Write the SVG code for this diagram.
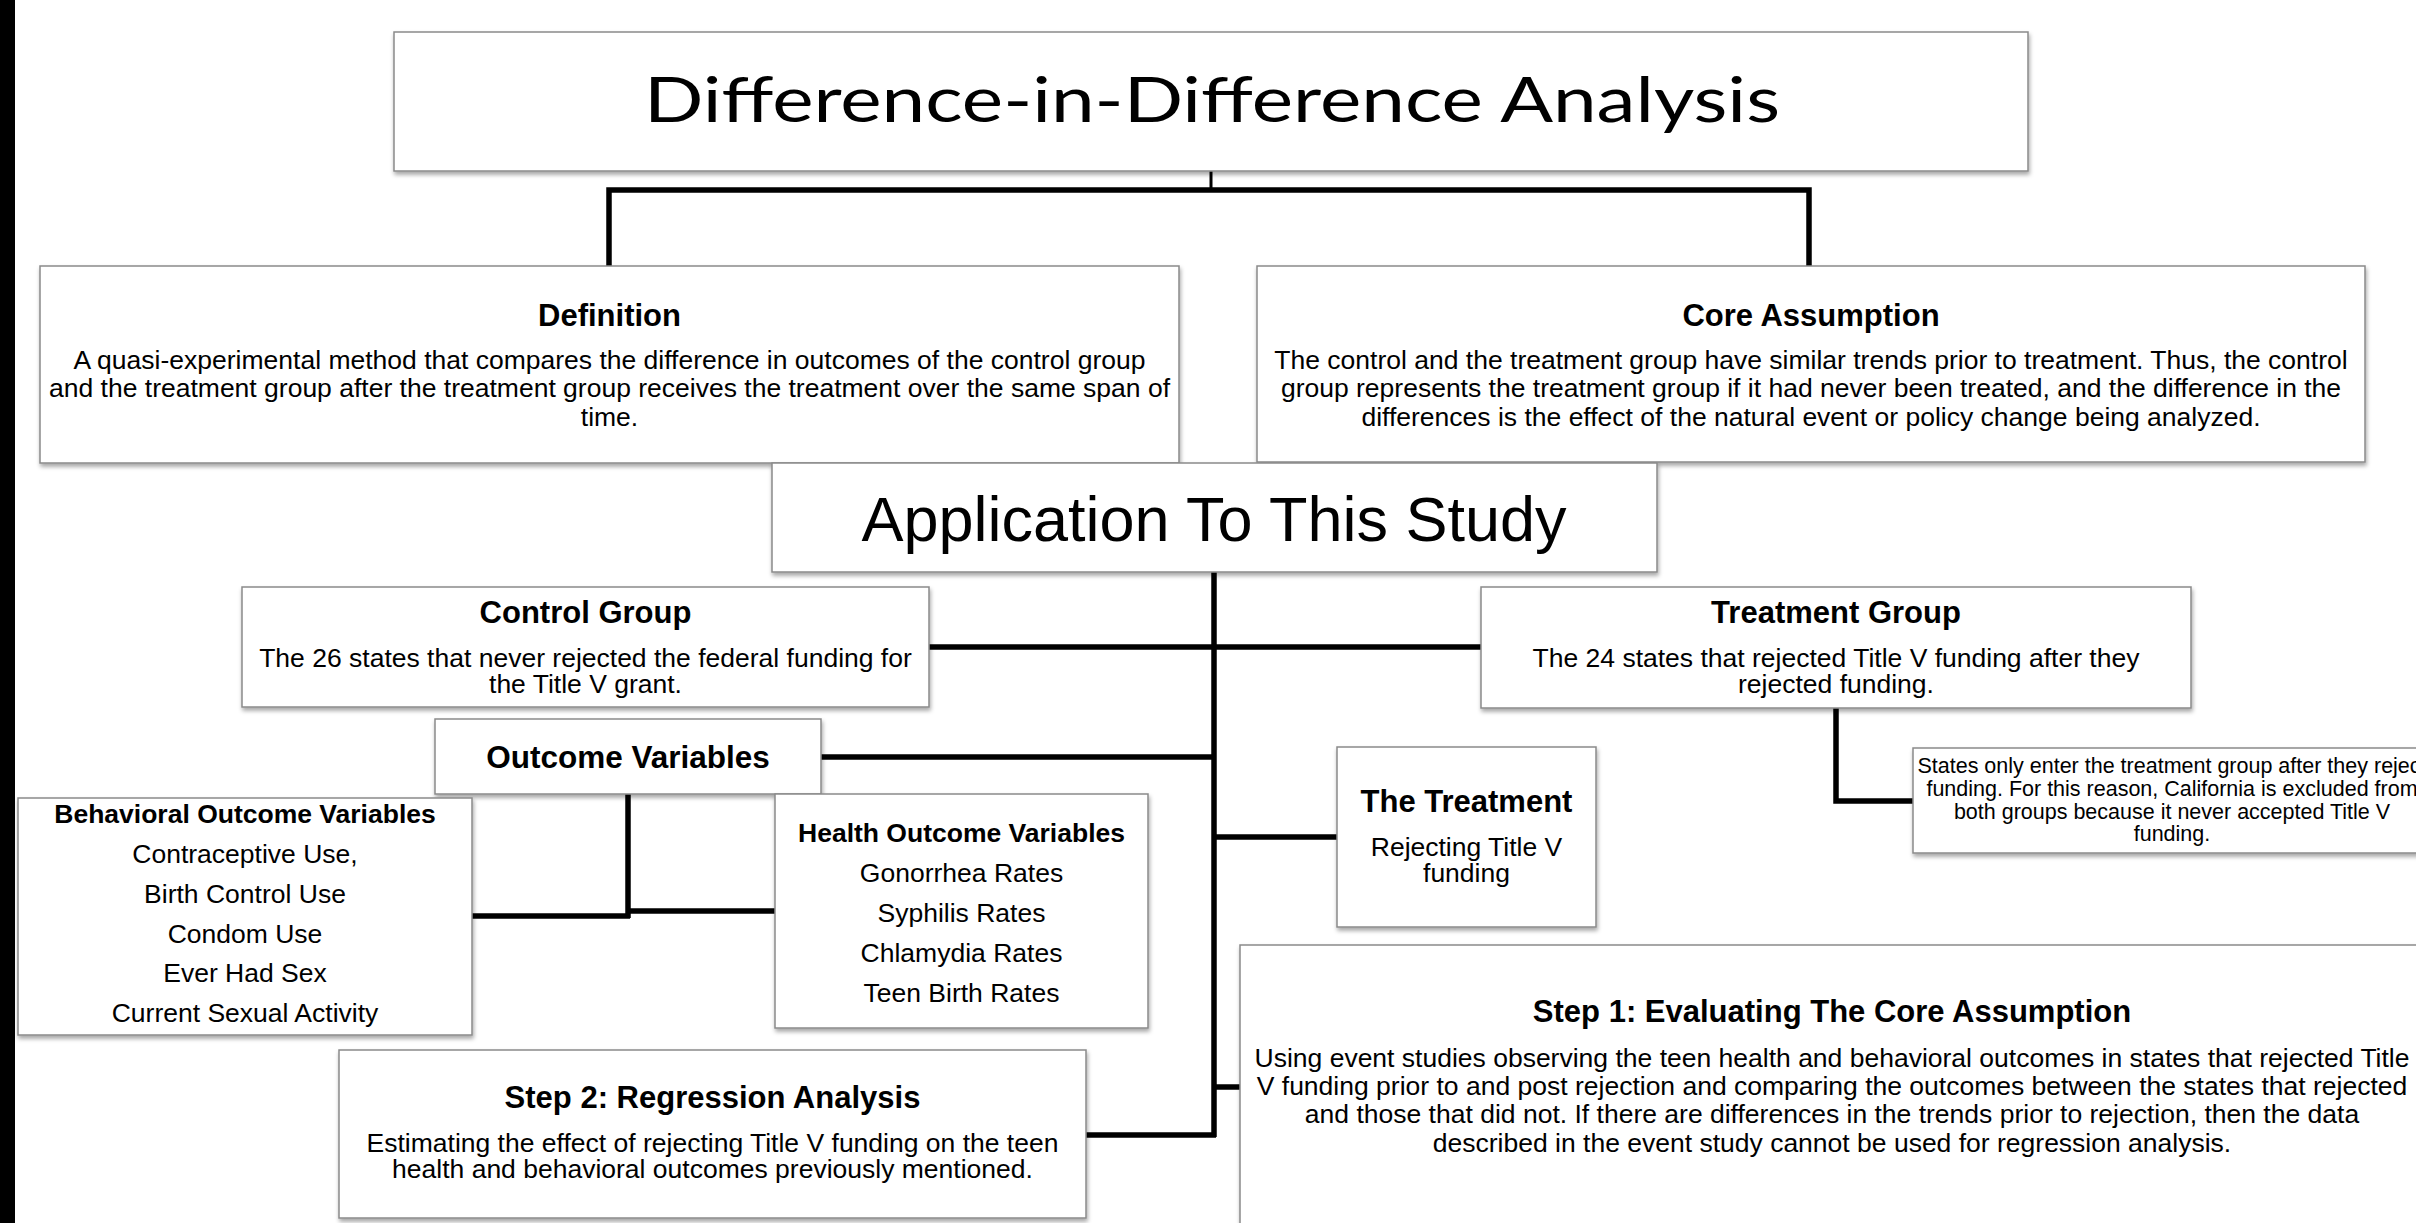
<svg xmlns="http://www.w3.org/2000/svg" width="2416" height="1223" viewBox="0 0 2416 1223">
<defs>
<filter id="sh" x="-5%" y="-10%" width="112%" height="130%">
<feDropShadow dx="1" dy="3" stdDeviation="2" flood-color="#000" flood-opacity="0.35"/>
</filter>
</defs>
<style>
.box{fill:#fff;stroke:#8a8a8a;stroke-width:1.5;filter:url(#sh)}
text{font-family:"Liberation Sans",Arial,Helvetica,sans-serif;fill:#000;text-anchor:middle}
.h{font-weight:bold;font-size:31px}
.hs{font-weight:bold;font-size:26.5px}
.b{font-size:26.5px}
.n{font-size:21.5px}
.ln{stroke:#000;fill:none;stroke-width:5.5}
</style>
<rect x="0" y="0" width="2416" height="1223" fill="#fff"/>
<rect x="0" y="0" width="15" height="1223" fill="#000"/>

<g id="connectors">
<line class="ln" x1="1211" y1="171" x2="1211" y2="190" style="stroke-width:3"/>
<polyline class="ln" points="609,266 609,190 1809,190 1809,266"/>
<line class="ln" x1="1214" y1="572" x2="1214" y2="1137"/>
<line class="ln" x1="929" y1="647" x2="1481" y2="647"/>
<line class="ln" x1="821" y1="757" x2="1214" y2="757"/>
<line class="ln" x1="1214" y1="837" x2="1337" y2="837"/>
<line class="ln" x1="1214" y1="1087" x2="1240" y2="1087"/>
<line class="ln" x1="1086" y1="1135" x2="1216" y2="1135"/>
<polyline class="ln" points="1836,708 1836,801 1913,801"/>
<line class="ln" x1="628" y1="794" x2="628" y2="918"/>
<line class="ln" x1="472" y1="916" x2="630" y2="916"/>
<line class="ln" x1="628" y1="911" x2="775" y2="911"/>
</g>

<g id="title">
<rect class="box" x="394" y="32" width="1634" height="139"/>
<text x="1212" y="122" style="font-family:Lato,'Open Sans',sans-serif;font-size:61px" textLength="1136" lengthAdjust="spacingAndGlyphs">Difference-in-Difference Analysis</text>
</g>

<g id="definition">
<rect class="box" x="40" y="266" width="1139" height="197"/>
<text class="h" x="609.5" y="326">Definition</text>
<text class="b" x="609.5" y="369">A quasi-experimental method that compares the difference in outcomes of the control group</text>
<text class="b" x="609.5" y="397">and the treatment group after the treatment group receives the treatment over the same span of</text>
<text class="b" x="609.5" y="426">time.</text>
</g>

<g id="core-assumption">
<rect class="box" x="1257" y="266" width="1108" height="196"/>
<text class="h" x="1811" y="326">Core Assumption</text>
<text class="b" x="1811" y="369">The control and the treatment group have similar trends prior to treatment. Thus, the control</text>
<text class="b" x="1811" y="397">group represents the treatment group if it had never been treated, and the difference in the</text>
<text class="b" x="1811" y="426">differences is the effect of the natural event or policy change being analyzed.</text>
</g>

<g id="application">
<rect class="box" x="772" y="463" width="885" height="109"/>
<text x="1214" y="541" style="font-size:63px">Application To This Study</text>
</g>

<g id="control-group">
<rect class="box" x="242" y="587" width="687" height="120"/>
<text class="h" x="585.5" y="623">Control Group</text>
<text class="b" x="585.5" y="667">The 26 states that never rejected the federal funding for</text>
<text class="b" x="585.5" y="693">the Title V grant.</text>
</g>

<g id="treatment-group">
<rect class="box" x="1481" y="587" width="710" height="121"/>
<text class="h" x="1836" y="623">Treatment Group</text>
<text class="b" x="1836" y="667">The 24 states that rejected Title V funding after they</text>
<text class="b" x="1836" y="693">rejected funding.</text>
</g>

<g id="note">
<rect class="box" x="1913" y="748" width="518" height="105"/>
<text class="n" x="2172" y="773">States only enter the treatment group after they reject</text>
<text class="n" x="2172" y="796">funding. For this reason, California is excluded from</text>
<text class="n" x="2172" y="819">both groups because it never accepted Title V</text>
<text class="n" x="2172" y="841">funding.</text>
</g>

<g id="outcome-variables">
<rect class="box" x="435" y="719" width="386" height="75"/>
<text x="628" y="768" style="font-weight:bold;font-size:31.5px">Outcome Variables</text>
</g>

<g id="behavioral">
<rect class="box" x="18" y="798" width="454" height="237"/>
<text class="hs" x="245" y="823">Behavioral Outcome Variables</text>
<text class="b" x="245" y="863">Contraceptive Use,</text>
<text class="b" x="245" y="903">Birth Control Use</text>
<text class="b" x="245" y="943">Condom Use</text>
<text class="b" x="245" y="982">Ever Had Sex</text>
<text class="b" x="245" y="1022">Current Sexual Activity</text>
</g>

<g id="health">
<rect class="box" x="775" y="794" width="373" height="234"/>
<text class="hs" x="961.5" y="842">Health Outcome Variables</text>
<text class="b" x="961.5" y="882">Gonorrhea Rates</text>
<text class="b" x="961.5" y="922">Syphilis Rates</text>
<text class="b" x="961.5" y="962">Chlamydia Rates</text>
<text class="b" x="961.5" y="1002">Teen Birth Rates</text>
</g>

<g id="the-treatment">
<rect class="box" x="1337" y="747" width="259" height="180"/>
<text class="h" x="1466.5" y="812">The Treatment</text>
<text class="b" x="1466.5" y="856">Rejecting Title V</text>
<text class="b" x="1466.5" y="882">funding</text>
</g>

<g id="step1">
<rect class="box" x="1240" y="945" width="1184" height="290"/>
<text class="h" x="1832" y="1022">Step 1: Evaluating The Core Assumption</text>
<text class="b" x="1832" y="1067">Using event studies observing the teen health and behavioral outcomes in states that rejected Title</text>
<text class="b" x="1832" y="1095">V funding prior to and post rejection and comparing the outcomes between the states that rejected</text>
<text class="b" x="1832" y="1123">and those that did not. If there are differences in the trends prior to rejection, then the data</text>
<text class="b" x="1832" y="1152">described in the event study cannot be used for regression analysis.</text>
</g>

<g id="step2">
<rect class="box" x="339" y="1050" width="747" height="168"/>
<text class="h" x="712.5" y="1108">Step 2: Regression Analysis</text>
<text class="b" x="712.5" y="1152">Estimating the effect of rejecting Title V funding on the teen</text>
<text class="b" x="712.5" y="1178">health and behavioral outcomes previously mentioned.</text>
</g>
</svg>
